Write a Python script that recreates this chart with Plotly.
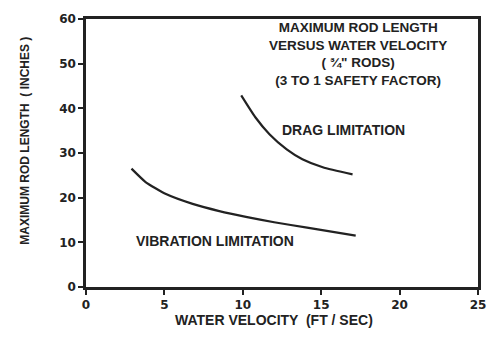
import plotly.graph_objects as go

# Data
vib_velocity = [2.9, 3.8, 5.1, 6.8, 8.5, 10.2, 12.0, 14.1, 17.2]
vib_length = [26.5, 23.5, 20.8, 18.6, 17.0, 15.7, 14.5, 13.3, 11.5]

drag_velocity = [9.9, 10.8, 11.7, 12.8, 13.8, 15.1, 17.0]
drag_length = [42.9, 38.0, 34.2, 30.8, 28.6, 26.8, 25.2]

x_ticks = [0, 5, 10, 15, 20, 25]
y_ticks = [0, 10, 20, 30, 40, 50, 60]

title_lines = ["MAXIMUM ROD LENGTH", "VERSUS WATER VELOCITY", "( ¾\" RODS)", "(3 TO 1 SAFETY FACTOR)"]

INK = "#222222"
FONT = "Liberation Sans, Arial, sans-serif"

fig = go.Figure()
fig.add_trace(go.Scatter(x=vib_velocity, y=vib_length, mode="lines",
                         line=dict(color=INK, width=2.2, shape="spline", smoothing=0.5),
                         showlegend=False, hoverinfo="skip"))
fig.add_trace(go.Scatter(x=drag_velocity, y=drag_length, mode="lines",
                         line=dict(color=INK, width=2.2, shape="spline", smoothing=0.5),
                         showlegend=False, hoverinfo="skip"))

L, R, T, B = 86, 22, 16, 50
W, H = 500, 337
pw = W - L - R
ph = H - T - B

annotations = []
annotations.append(dict(x=(358 - L) / pw, y=1 - (51.5 - T) / ph, xref="paper", yref="paper",
                        text="<br>".join("<b>%s</b>" % s for s in title_lines), showarrow=False,
                        xanchor="center", yanchor="middle", align="center",
                        font=dict(family=FONT, size=13.5, color=INK)))
annotations.append(dict(x=16.4, y=35.2, xref="x", yref="y", text="<b>DRAG LIMITATION</b>",
                        showarrow=False, xanchor="center", yanchor="middle",
                        font=dict(family=FONT, size=14, color=INK)))
annotations.append(dict(x=8.25, y=10.4, xref="x", yref="y", text="<b>VIBRATION LIMITATION</b>",
                        showarrow=False, xanchor="center", yanchor="middle",
                        font=dict(family=FONT, size=14, color=INK)))
annotations.append(dict(x=(25 - L) / pw, y=1 - (139 - T) / ph, xref="paper", yref="paper",
                        text="<b>MAXIMUM ROD LENGTH  ( INCHES )</b>", textangle=-90,
                        showarrow=False, xanchor="center", yanchor="middle",
                        font=dict(family=FONT, size=12, color=INK)))
annotations.append(dict(x=(274 - L) / pw, y=-(320 - (H - B)) / ph, xref="paper", yref="paper",
                        text="<b>WATER VELOCITY  (FT / SEC)</b>",
                        showarrow=False, xanchor="center", yanchor="middle",
                        font=dict(family=FONT, size=14, color=INK)))

axis_common = dict(showgrid=False, zeroline=False, showline=True, linecolor=INK, linewidth=2.5,
                   mirror=True, ticks="outside", ticklen=5, tickwidth=1.5, tickcolor=INK,
                   tickfont=dict(family="DejaVu Sans, sans-serif", size=12, color=INK, weight="bold"))

fig.update_layout(
    width=W, height=H,
    margin=dict(l=L, r=R, t=T, b=B),
    paper_bgcolor="white", plot_bgcolor="white",
    xaxis=dict(range=[0, 25], tickvals=x_ticks, **axis_common),
    yaxis=dict(range=[0, 60], tickvals=y_ticks, **axis_common),
    annotations=annotations,
)

fig.write_html("out.html")
